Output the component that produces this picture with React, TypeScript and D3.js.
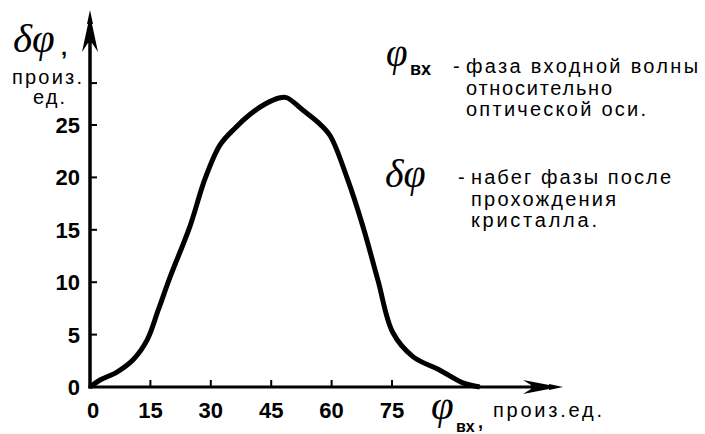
import React from 'react';
import * as d3 from 'd3';

// phase of the input wave vs phase gain (arbitrary units)
const phiIn = [0, 2.5, 6.7, 10.7, 14.2, 17, 19.9, 24.8, 28.6, 32.3, 36, 39.7, 43.5, 47.2, 48.9, 52.9, 56.5, 59.6, 63.8, 67.8, 71.5, 75.2, 80.2, 86.9, 92.6, 96.8];
const deltaPhi = [0, 0.67, 1.43, 2.6, 4.5, 7.4, 10.5, 15.3, 19.9, 23.1, 24.7, 26.0, 27.0, 27.6, 27.6, 26.4, 25.3, 24.0, 20.0, 15.3, 10.2, 5.2, 2.9, 1.6, 0.4, 0];

const xTicks = [0, 15, 30, 45, 60, 75];
const yTicks = [0, 5, 10, 15, 20, 25];
const yTopTick = 29;

const legendPhi = ['фаза входной волны', 'относительно', 'оптической оси.'];
const legendDelta = ['набег фазы после', 'прохождения', 'кристалла.'];

const W = 705;
const H = 434;
const sans = 'Liberation Sans, Arial, sans-serif';
const serif = 'Liberation Serif, Times New Roman, serif';

const x = d3.scaleLinear().domain([0, 75]).range([90, 392]);
const y = d3.scaleLinear().domain([0, 25]).range([387, 125]);

const App = () => {
    const pts = phiIn.map((p, i) => [p, deltaPhi[i]] as [number, number]);
    const line = d3.line<[number, number]>()
        .x(d => x(d[0]))
        .y(d => y(d[1]))
        .curve(d3.curveCatmullRom.alpha(0.5));

    const x0 = x(0);
    const y0 = y(0);
    const yTip = 10;
    const xTip = 563;

    // feathered arrow heads
    const upArrow = `M${x0},${yTip} L${x0 + 3},${yTip + 14} L${x0 + 2},${yTip + 14} L${x0 + 8},${yTip + 42} L${x0 + 2},${yTip + 33} L${x0 - 2},${yTip + 33} L${x0 - 8},${yTip + 42} L${x0 - 2},${yTip + 14} L${x0 - 3},${yTip + 14} Z`;
    const rightArrow = `M${xTip},${y0} L${xTip - 14},${y0 - 3} L${xTip - 14},${y0 - 2} L${xTip - 40},${y0 - 7} L${xTip - 32},${y0 - 2} L${xTip - 32},${y0 + 2} L${xTip - 40},${y0 + 7} L${xTip - 14},${y0 + 2} L${xTip - 14},${y0 + 3} Z`;

    const lineGap = 21.5;

    return (
        <div style={{position: 'absolute', left: 0, top: 0}}>
            <svg width={W} height={H} viewBox={`0 0 ${W} ${H}`} style={{display: 'block', background: '#fff'}}>
                {/* axes */}
                <line x1={x0} y1={y0 + 1.5} x2={x0} y2={yTip + 20} stroke="#000" strokeWidth={3.5}/>
                <line x1={x0 - 1.5} y1={y0} x2={xTip - 20} y2={y0} stroke="#000" strokeWidth={3}/>
                <path d={upArrow} fill="#000"/>
                <path d={rightArrow} fill="#000"/>

                {/* y ticks */}
                {[...yTicks.slice(1), yTopTick].map(t => (
                    <line key={'yt' + t} x1={x0} x2={x0 + 7} y1={y(t)} y2={y(t)} stroke="#000" strokeWidth={2}/>
                ))}
                {yTicks.map(t => (
                    <text key={'yl' + t} x={80} y={y(t)} dy="0.36em" textAnchor="end"
                          fontFamily={sans} fontWeight="bold" fontSize={22}>{t}</text>
                ))}

                {/* x ticks */}
                {xTicks.slice(1).map(t => (
                    <line key={'xt' + t} x1={x(t)} x2={x(t)} y1={y0} y2={y0 - 7} stroke="#000" strokeWidth={2}/>
                ))}
                {xTicks.map(t => (
                    <text key={'xl' + t} x={x(t) + (t === 0 ? 3 : 0)} y={418} textAnchor="middle"
                          fontFamily={sans} fontWeight="bold" fontSize={22}>{t}</text>
                ))}

                {/* curve */}
                <path d={line(pts) || ''} fill="none" stroke="#000" strokeWidth={5} strokeLinejoin="round"/>

                {/* y axis title */}
                <text x={13} y={52} fontFamily={serif} fontStyle="italic" fontSize={41}>δφ</text>
                <text x={61} y={55} fontFamily={sans} fontWeight="bold" fontSize={22}>,</text>
                <text x={12} y={84} fontFamily={sans} fontSize={20} textLength={70} lengthAdjust="spacing">произ.</text>
                <text x={33} y={104} fontFamily={sans} fontSize={20} textLength={32} lengthAdjust="spacing">ед.</text>

                {/* x axis title */}
                <text x={431} y={419} fontFamily={serif} fontStyle="italic" fontSize={41}>φ</text>
                <text x={456} y={432} fontFamily={sans} fontWeight="bold" fontSize={16}>вх</text>
                <text x={478} y={428} fontFamily={sans} fontWeight="bold" fontSize={18}>,</text>
                <text x={493} y={417} fontFamily={sans} fontSize={20} textLength={109} lengthAdjust="spacing">произ.ед.</text>

                {/* legend */}
                <text x={386} y={66} fontFamily={serif} fontStyle="italic" fontSize={39}>φ</text>
                <text x={410} y={75} fontFamily={sans} fontWeight="bold" fontSize={18}>вх</text>
                <text x={453} y={73} fontFamily={sans} fontSize={20}>-</text>
                {legendPhi.map((s, i) => (
                    <text key={'lp' + i} x={466} y={73 + i * lineGap} fontFamily={sans} fontSize={20}
                          textLength={[232, 146, 180][i]} lengthAdjust="spacing">{s}</text>
                ))}

                <text x={385} y={187} fontFamily={serif} fontStyle="italic" fontSize={40}>δφ</text>
                <text x={458} y={184} fontFamily={sans} fontSize={20}>-</text>
                {legendDelta.map((s, i) => (
                    <text key={'ld' + i} x={471} y={184 + i * lineGap} fontFamily={sans} fontSize={20}
                          textLength={[200, 145, 126][i]} lengthAdjust="spacing">{s}</text>
                ))}
            </svg>
        </div>
    );
};

export default App;
